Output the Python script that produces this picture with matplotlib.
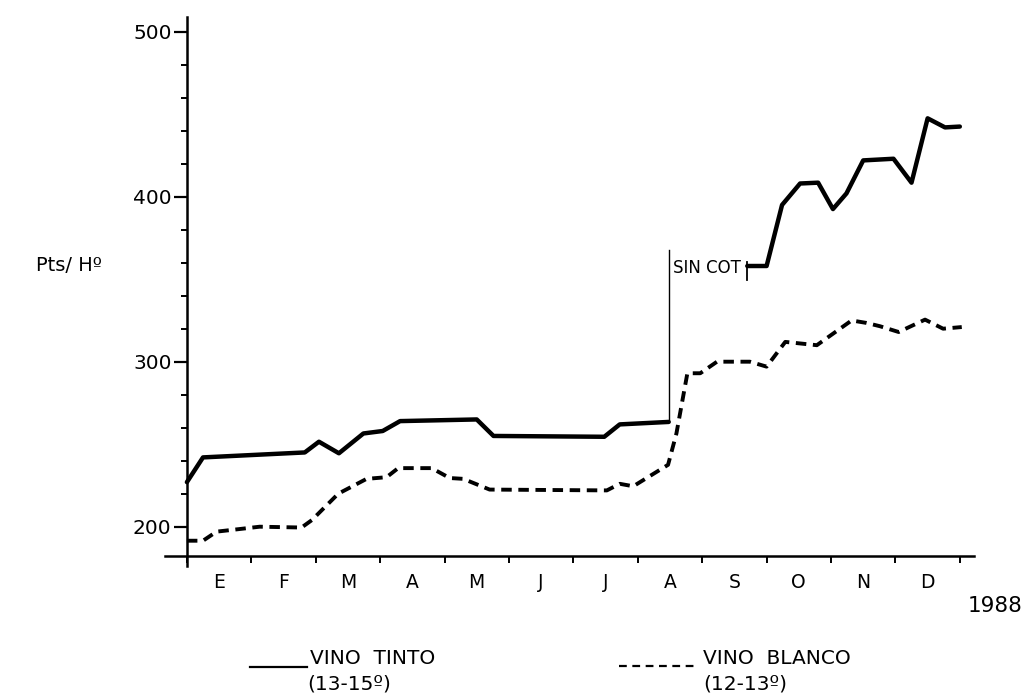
import numpy as np
import matplotlib.pyplot as plt
from matplotlib.lines import Line2D

plt.rcParams['font.family'] = ['DejaVu Sans']

months = ["E", "F", "M", "A", "M", "J", "J", "A", "S", "O", "N", "D"]
year = "1988"

# vino tinto (13-15º), x en meses desde el 1 de enero
tinto_x1 = [0.00, 0.25, 1.83, 2.05, 2.36, 2.74, 3.04, 3.31, 4.50, 4.76, 6.48, 6.72, 7.48]
tinto_y1 = [227, 242, 245, 251.5, 244.5, 256.5, 258, 264, 265, 255, 254.5, 262, 263.5]
# tramo despues de "sin cotizacion"
tinto_x2 = [8.70, 9.00, 9.24, 9.52, 9.80, 10.03, 10.24, 10.50, 10.97, 11.25, 11.50, 11.77, 12.00]
tinto_y2 = [358, 358, 395, 408, 408.5, 392.5, 402, 422, 423, 408.5, 447.5, 442, 442.5]

# vino blanco (12-13º)
blanco_x = [0.00, 0.25, 0.46, 0.80, 1.13, 1.78, 1.94, 2.35, 2.79, 3.10, 3.28, 3.80,
            4.08, 4.29, 4.70, 6.52, 6.72, 6.93, 7.47, 7.60, 7.77, 7.97, 8.23, 8.74,
            9.00, 9.29, 9.78, 10.32, 10.55, 10.76, 11.05, 11.46, 11.74, 12.03]
blanco_y = [191.5, 191.5, 197, 198.5, 200, 199.5, 204, 220, 229, 230, 235.5, 235.5,
            229.5, 229, 222.5, 222, 226, 224.5, 237.5, 256.5, 293, 293, 300, 300,
            297, 312, 310, 325, 323.5, 321.5, 318, 325.5, 320, 321]

# marcas del periodo sin cotizacion
sincot_x = 7.48
sincot_top = 367.7
bar_x = 8.70
bar_lo, bar_hi = 349.5, 360.6

W, H = 1034, 696
fig = plt.figure(figsize=(W / 100, H / 100), dpi=100)
ax = fig.add_axes([165 / W, 1 - 566.3 / H, 809 / W, (566.3 - 16.85) / H])

ax.plot(tinto_x1, tinto_y1, color="black", lw=3.2, solid_joinstyle="round", solid_capstyle="round")
ax.plot(tinto_x2, tinto_y2, color="black", lw=3.2, solid_joinstyle="round", solid_capstyle="round")
ax.plot(blanco_x, blanco_y, color="black", lw=2.8, linestyle=(0, (2.7, 1.7)))

ax.plot([sincot_x, sincot_x], [tinto_y1[-1], sincot_top], color="black", lw=1.0)
ax.plot([bar_x, bar_x], [bar_lo, bar_hi], color="black", lw=1.3)
ax.text(sincot_x + 0.07, 357, "SIN COT", fontsize=12, va="center", ha="left")

ax.set_xlim(-0.34, 12.22)
ax.set_ylim(176, 509)

ax.spines["top"].set_visible(False)
ax.spines["right"].set_visible(False)
ax.spines["left"].set_position(("data", 0))
ax.spines["bottom"].set_position(("data", 182))
ax.spines["left"].set_linewidth(1.8)
ax.spines["bottom"].set_linewidth(1.8)

ax.set_yticks([200, 300, 400, 500])
ax.set_yticks(np.arange(220, 500, 20), minor=True)
ax.tick_params(axis="y", which="major", length=9.5, width=1.6, pad=1.5, labelsize=14.5)
ax.tick_params(axis="y", which="minor", length=4.5, width=1.4)

ax.set_xticks(np.arange(0, 13))
ax.set_xticklabels([])
ax.set_xticks(np.arange(12) + 0.5, minor=True)
ax.set_xticklabels(months, minor=True)
ax.tick_params(axis="x", which="major", length=5, width=1.4)
ax.tick_params(axis="x", which="minor", length=0, pad=12, labelsize=13.5)

fig.text(36 / W, 1 - 265 / H, "Pts/ Hº", fontsize=14, va="center", ha="left")
fig.text(968 / W, 1 - 606 / H, year, fontsize=15.5, va="center", ha="left")

# leyenda
fig.add_artist(Line2D([250 / W, 307 / W], [1 - 667 / H, 1 - 667 / H], color="black", lw=1.6))
fig.text(310 / W, 1 - 659 / H, "VINO  TINTO", fontsize=14.5, va="center", ha="left")
fig.text(307 / W, 1 - 684 / H, "(13-15º)", fontsize=14.5, va="center", ha="left")
fig.add_artist(Line2D([619 / W, 697 / W], [1 - 666 / H, 1 - 666 / H], color="black", lw=1.6,
                      linestyle=(0, (3.5, 2.5))))
fig.text(703 / W, 1 - 659 / H, "VINO  BLANCO", fontsize=14.5, va="center", ha="left")
fig.text(703 / W, 1 - 684 / H, "(12-13º)", fontsize=14.5, va="center", ha="left")

fig.savefig("out.png", dpi=100)
